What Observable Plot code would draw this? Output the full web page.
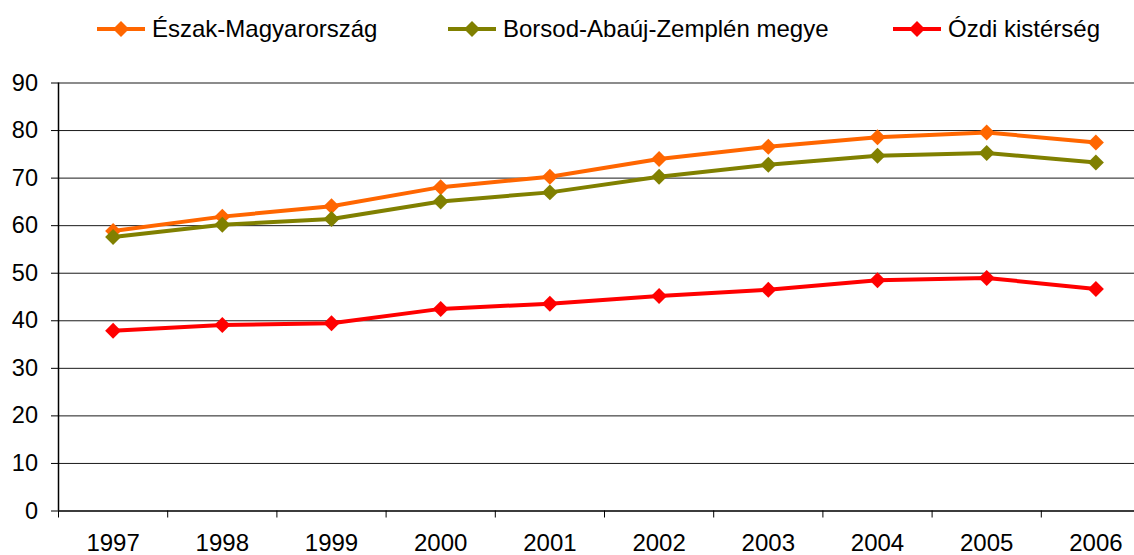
<!DOCTYPE html>
<html>
<head>
<meta charset="utf-8">
<script src="https://cdn.jsdelivr.net/npm/d3@7"></script>
<script src="https://cdn.jsdelivr.net/npm/@observablehq/plot@0.6"></script>
<style>
  html, body { margin: 0; padding: 0; background: #fff; }
  body { width: 1134px; height: 555px; overflow: hidden; font-family: "Liberation Sans", Arial, sans-serif; }
  #legend { position: relative; height: 60px; }
  .item { position: absolute; top: 17px; display: flex; align-items: center; font-size: 24px; line-height: 24px; color: #000; white-space: nowrap; }
  .item svg { margin-right: 7px; }
</style>
</head>
<body>
<div id="legend"></div>
<div id="chart"></div>
<script>
const years = [1997, 1998, 1999, 2000, 2001, 2002, 2003, 2004, 2005, 2006];
const seriesNames = ["Észak-Magyarország", "Borsod-Abaúj-Zemplén megye", "Ózdi kistérség"];
const eszak   = [58.9, 61.9, 64.1, 68.1, 70.3, 74.0, 76.6, 78.6, 79.6, 77.5];
const borsod  = [57.6, 60.2, 61.4, 65.1, 67.0, 70.3, 72.8, 74.7, 75.3, 73.3];
const ozd     = [37.9, 39.1, 39.5, 42.5, 43.6, 45.2, 46.5, 48.5, 49.0, 46.7];
const yTicks = [0, 10, 20, 30, 40, 50, 60, 70, 80, 90];
const colors = ["#FF6600", "#808000", "#FF0000"];
const legendLeft = [97, 448, 893];

const values = [eszak, borsod, ozd];
const data = [];
seriesNames.forEach((s, i) => years.forEach((yr, j) => data.push({series: s, year: yr, value: values[i][j]})));
const edges = years.map(y => y - 0.5).concat([years[years.length - 1] + 0.5]);

// Legend
const legend = document.getElementById("legend");
seriesNames.forEach((s, i) => {
  const div = document.createElement("div");
  div.className = "item";
  div.style.left = legendLeft[i] + "px";
  div.innerHTML = `<svg width="48" height="18" viewBox="0 0 48 18"><line x1="0" y1="9" x2="48" y2="9" stroke="${colors[i]}" stroke-width="4"/><path d="M24,1 L32,9 L24,17 L16,9 Z" fill="${colors[i]}"/></svg><span>${s}</span>`;
  legend.appendChild(div);
});

const chart = Plot.plot({
  width: 1134,
  height: 495,
  marginTop: 22.5,
  marginBottom: 44.5,
  marginLeft: 58,
  marginRight: 0,
  style: { fontFamily: "'Liberation Sans', Arial, sans-serif", fontSize: "24px", color: "#000", background: "#fff", overflow: "hidden" },
  x: { type: "linear", domain: [1996.5, 2006.5], range: [58, 1150] },
  y: { domain: [0, 90] },
  color: { domain: seriesNames, range: colors },
  marks: [
    Plot.gridY(yTicks, { stroke: "#000", strokeOpacity: 0.9, strokeWidth: 1 }),
    Plot.ruleY([0], { stroke: "#222", strokeWidth: 1.5 }),
    Plot.ruleX([1996.5], { stroke: "#000", strokeWidth: 1.5 }),
    Plot.axisY(yTicks, { tickSize: 7, tickPadding: 13.5, fontSize: 23.5, label: null, stroke: "#000" }),
    Plot.axisX(edges, { tickSize: 7, tickFormat: () => "", label: null, stroke: "#000" }),
    Plot.axisX(years, { tickSize: 0, tickPadding: 23, fontSize: 24, tickFormat: d => String(d), label: null }),
    Plot.line(data, { x: "year", y: "value", z: "series", stroke: "series", strokeWidth: 4 }),
    Plot.dot(data, { x: "year", y: "value", fill: "series", symbol: "diamond2", r: 7.2, stroke: "none" })
  ]
});
document.getElementById("chart").appendChild(chart);
</script>
</body>
</html>
